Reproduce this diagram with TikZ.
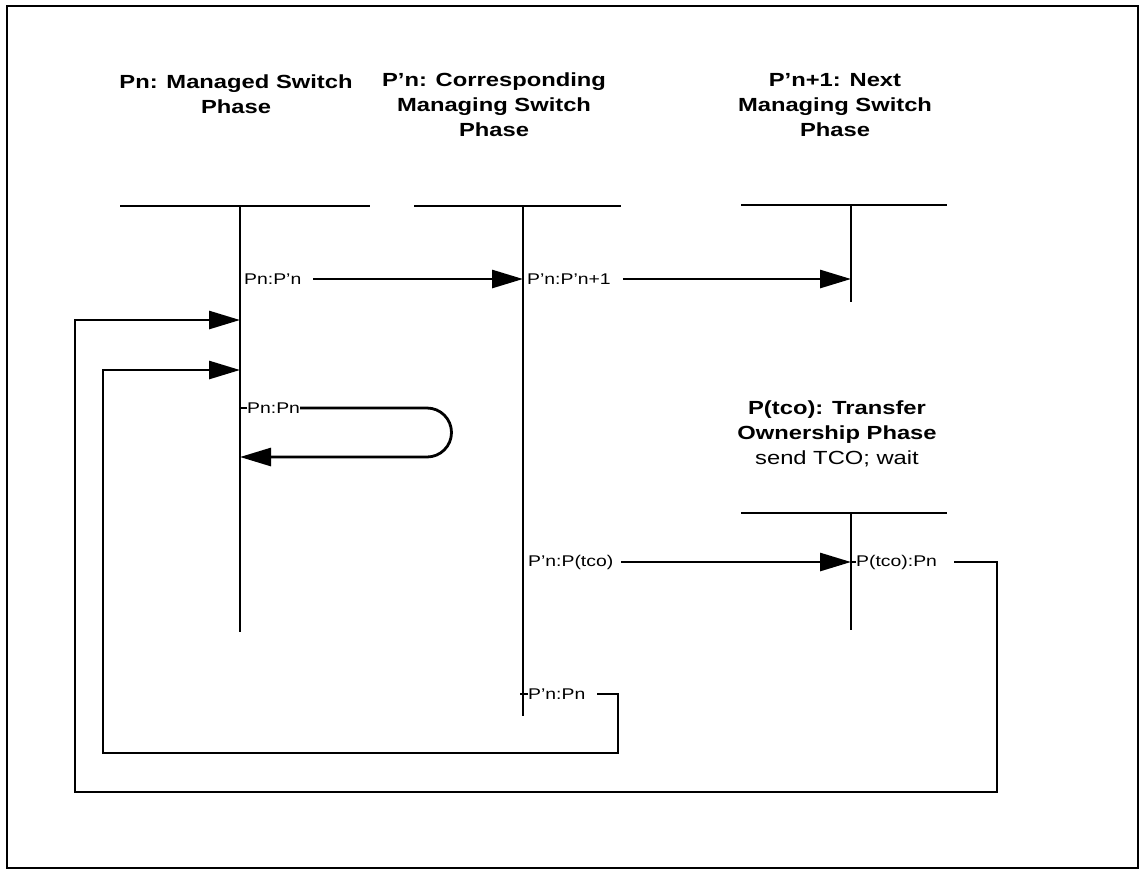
\documentclass[tikz,border=0pt]{standalone}
\usepackage{fontspec}
\setmainfont[FakeStretch=1.25]{Liberation Sans}
\usetikzlibrary{arrows.meta, positioning, calc}

\begin{document}
\begin{tikzpicture}[
    x=1pt, y=-1pt,
    phase/.style={align=center, font=\bfseries\fontsize{19}{25}\selectfont},
    lbl/.style={anchor=west, inner sep=0pt, font=\fontsize{15.5}{17}\selectfont},
    bar/.style={line width=2.6pt},
    life/.style={line width=2.6pt},
    msg/.style={line width=2.8pt, -{Triangle[length=31pt, width=18pt]}},
    tick/.style={line width=1.4pt}
]
    \useasboundingbox (0,0) rectangle (1145,871);
    \draw[line width=2.2pt] (7,6) rectangle (1138,868);

    % phases
    \node[phase] (pn)   at (236,94)  {Pn: Managed Switch\\Phase};
    \node[phase] (ppn)  at (494,105) {P’n: Corresponding\\Managing Switch\\Phase};
    \node[phase] (pnx)  at (835,105) {P’n+1: Next\\Managing Switch\\Phase};
    \node[phase] (ptco) at (837,434) {P(tco): Transfer\\Ownership Phase\\\mdseries send TCO; wait};

    % lifelines
    \coordinate (pnT)   at (240,206);  \coordinate (pnB)   at (240,632);
    \coordinate (ppnT)  at (523,206);  \coordinate (ppnB)  at (523,716);
    \coordinate (pnxT)  at (851,205);  \coordinate (pnxB)  at (851,302);
    \coordinate (ptcoT) at (851,513);  \coordinate (ptcoB) at (851,630);

    \draw[bar] ([xshift=-120pt]pnT) -- ([xshift=130pt]pnT);
    \draw[bar] ([xshift=-109pt]ppnT) -- ([xshift=98pt]ppnT);
    \draw[bar] ([xshift=-110pt]pnxT) -- ([xshift=96pt]pnxT);
    \draw[bar] ([xshift=-110pt]ptcoT) -- ([xshift=96pt]ptcoT);

    \draw[life] (pnT) -- (pnB);
    \draw[life] (ppnT) -- (ppnB);
    \draw[line width=1.2pt] (pnxT) -- (pnxB);
    \draw[life] (ptcoT) -- (ptcoB);

    % transitions
    \node[lbl] (m1) at (244,279) {Pn:P’n};
    \node[lbl] (m2) at (527,279) {P’n:P’n+1};
    \node[lbl] (m5) at (247,408) {Pn:Pn};
    \node[lbl] (m6) at (528,562) {P’n:P(tco)};
    \node[lbl] (m7) at (856,562) {P(tco):Pn};
    \node[lbl] (m8) at (528,694) {P’n:Pn};

    \coordinate (in1) at (240,320);
    \coordinate (in2) at (240,370);
    \coordinate (back5) at (240,457);
    \coordinate (ret1) at (997,792);
    \coordinate (ret1l) at (75,792);
    \coordinate (ret2) at (618,753);
    \coordinate (ret2l) at (103,753);

    \draw[msg, shorten <=12pt] (m1.east) -- (m1.east -| ppnT);
    \draw[msg, shorten <=12pt] (m2.east) -- (m2.east -| pnxT);
    \draw[msg, shorten <=8pt]  (m6.east) -- (m6.east -| ptcoT);

    \draw[msg] (m5.east) -- (427,408) arc(-90:90:24.5) -- (back5);

    \draw[msg] ([xshift=17pt]m7.east) -| (ret1) -- (ret1l) |- (in1);
    \draw[msg] ([xshift=12pt]m8.east) -| (ret2) -- (ret2l) |- (in2);

    % small ticks at the phase exits
    \draw[tick] (m5.west) -- ++(-6,0);
    \draw[tick] (m7.west) -- ++(-6,0);
    \draw[tick] (m8.west) -- ++(-8,0);

\end{tikzpicture}
\end{document}
